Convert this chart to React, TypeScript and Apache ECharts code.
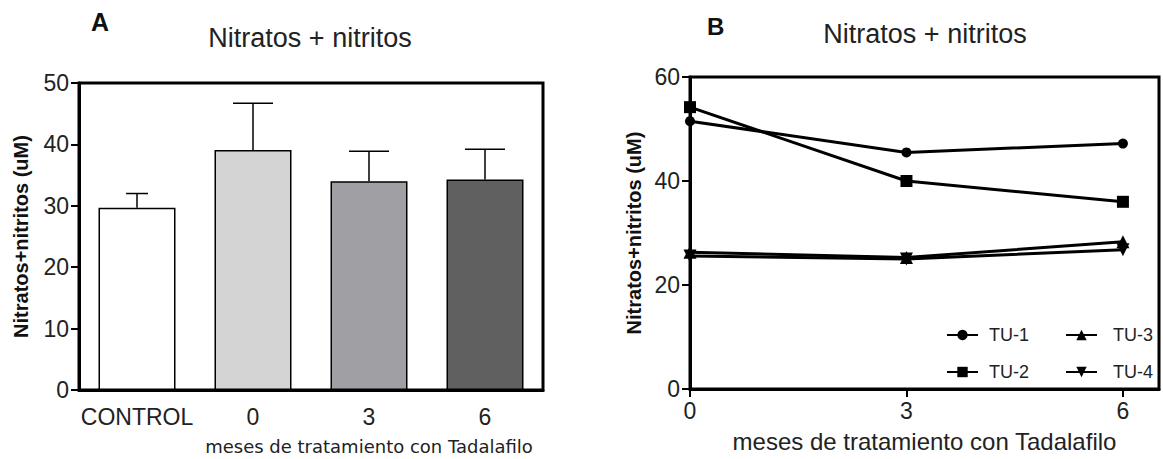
import React, { useEffect, useRef } from "react";
import * as echarts from "echarts";

// Panel A: bar chart
const barCategories = ["CONTROL", "0", "3", "6"];
const barMeans = [29.7, 39.1, 34.0, 34.3];
const barErrors = [2.3, 7.6, 4.9, 4.9];
const barColors = ["#ffffff", "#d4d4d4", "#a0a0a4", "#606060"];

// Panel B: lines
const months = [0, 3, 6];
const tu1 = [51.5, 45.5, 47.2];
const tu2 = [54.2, 40.0, 36.0];
const tu3 = [26.3, 25.3, 28.3];
const tu4 = [25.6, 25.0, 26.8];

const titleText = "Nitratos + nitritos";
const yName = "Nitratos+nitritos (uM)";
const xName = "meses de tratamiento con Tadalafilo";

const FONT = "'Liberation Sans', Arial, sans-serif";

export default function App() {
  const ref = useRef<HTMLDivElement>(null);
  useEffect(() => {
    if (!ref.current) return;
    const chart = echarts.init(ref.current, null, { renderer: "svg" });
    const axisLabel = { fontSize: 23, color: "#222", fontFamily: FONT };
    const nameStyle = { fontSize: 20, fontWeight: "bold" as const, color: "#111", fontFamily: FONT };
    const lineSeries = (name: string, vals: number[], symbol: string, size: number, rotate = 0) => ({
      type: "line",
      name,
      xAxisIndex: 1,
      yAxisIndex: 1,
      data: months.map((m, i) => [m, vals[i]]),
      symbol,
      symbolSize: size,
      symbolRotate: rotate,
      showSymbol: true,
      color: "#000",
      itemStyle: { color: "#000" },
      lineStyle: { color: "#000", width: 3 },
    });
    chart.setOption({
      animation: false,
      grid: [
        { left: 79, top: 83, width: 464, height: 307, show: true, borderColor: "#000", borderWidth: 3 },
        { left: 690, top: 77, width: 469, height: 312, show: true, borderColor: "#000", borderWidth: 3 },
      ],
      xAxis: [
        {
          type: "category",
          gridIndex: 0,
          data: barCategories,
          axisLine: { lineStyle: { color: "#000", width: 3 } },
          axisTick: { show: false },
          axisLabel: { ...axisLabel, margin: 15, interval: 0 },
        },
        {
          type: "value",
          gridIndex: 1,
          min: 0,
          max: 6.5,
          interval: 3,
          axisLine: { onZero: false, lineStyle: { color: "#000", width: 3 } },
          axisTick: { show: true, length: 8, lineStyle: { color: "#000", width: 2 }, customValues: [0, 3, 6] },
          axisLabel: { ...axisLabel, margin: 10, customValues: [0, 3, 6] },
          splitLine: { show: false },
          name: xName,
          nameLocation: "middle",
          nameGap: 40,
          nameTextStyle: { fontSize: 24, color: "#222", fontFamily: FONT },
        },
      ],
      yAxis: [
        {
          type: "value",
          gridIndex: 0,
          min: 0,
          max: 50,
          interval: 10,
          axisLine: { show: true, lineStyle: { color: "#000", width: 3 } },
          axisTick: { show: true, length: 8, lineStyle: { color: "#000", width: 2 } },
          axisLabel: { ...axisLabel, margin: 10 },
          splitLine: { show: false },
          name: yName,
          nameLocation: "middle",
          nameGap: 48,
          nameTextStyle: nameStyle,
        },
        {
          type: "value",
          gridIndex: 1,
          min: 0,
          max: 60,
          interval: 20,
          axisLine: { show: true, onZero: false, lineStyle: { color: "#000", width: 3 } },
          axisTick: { show: true, length: 8, lineStyle: { color: "#000", width: 2 } },
          axisLabel: { ...axisLabel, margin: 10 },
          splitLine: { show: false },
          name: yName,
          nameLocation: "middle",
          nameGap: 46,
          nameTextStyle: nameStyle,
        },
      ],
      legend: [
        {
          data: ["TU-1", "TU-2"],
          orient: "vertical",
          left: 941,
          top: 321,
          itemWidth: 31,
          itemHeight: 13,
          itemGap: 19,
          textStyle: { fontSize: 18, color: "#222", fontFamily: FONT, padding: [0, 0, 0, 6] },
        },
        {
          data: ["TU-3", "TU-4"],
          orient: "vertical",
          left: 1060,
          top: 321,
          itemWidth: 31,
          itemHeight: 13,
          itemGap: 19,
          textStyle: { fontSize: 18, color: "#222", fontFamily: FONT, padding: [0, 0, 0, 11] },
        },
      ],
      graphic: [
        { type: "text", x: 91, y: 9, style: { text: "A", font: `bold 25px ${FONT}`, fill: "#111" } },
        { type: "text", x: 707, y: 14, style: { text: "B", font: `bold 24px ${FONT}`, fill: "#111" } },
        { type: "text", x: 310, y: 38, style: { text: titleText, font: `27px ${FONT}`, fill: "#222", align: "center", verticalAlign: "middle" } },
        { type: "text", x: 925, y: 34, style: { text: titleText, font: `27px ${FONT}`, fill: "#222", align: "center", verticalAlign: "middle" } },
        { type: "text", x: 369, y: 446, style: { text: xName, font: `18px 'DejaVu Sans', sans-serif`, fill: "#222", align: "center", verticalAlign: "middle" } },
      ],
      series: [
        {
          type: "bar",
          xAxisIndex: 0,
          yAxisIndex: 0,
          barWidth: 77,
          data: barMeans.map((v, i) => ({ value: v, itemStyle: { color: barColors[i] } })),
          itemStyle: { borderColor: "#000", borderWidth: 1.5 },
          z: 2,
        },
        {
          type: "custom",
          xAxisIndex: 0,
          yAxisIndex: 0,
          z: 3,
          data: barMeans.map((v, i) => [i, v, v + barErrors[i]]),
          renderItem: (params: any, api: any) => {
            const idx = api.value(0);
            const base = api.coord([idx, api.value(1)]);
            const top = api.coord([idx, api.value(2)]);
            const half = params.dataIndex === 0 ? 11 : 20;
            const style = { stroke: "#000", lineWidth: 1.5 };
            return {
              type: "group",
              children: [
                { type: "line", shape: { x1: base[0], y1: base[1], x2: top[0], y2: top[1] }, style },
                { type: "line", shape: { x1: top[0] - half, y1: top[1], x2: top[0] + half, y2: top[1] }, style },
              ],
            };
          },
        },
        lineSeries("TU-1", tu1, "circle", 10),
        lineSeries("TU-2", tu2, "rect", 12),
        lineSeries("TU-3", tu3, "triangle", 13),
        lineSeries("TU-4", tu4, "triangle", 13, 180),
      ],
    });
    return () => chart.dispose();
  }, []);
  return (
    <div
      ref={ref}
      style={{ position: "fixed", left: 0, top: 0, width: 1163, height: 459, background: "#fff" }}
    />
  );
}
